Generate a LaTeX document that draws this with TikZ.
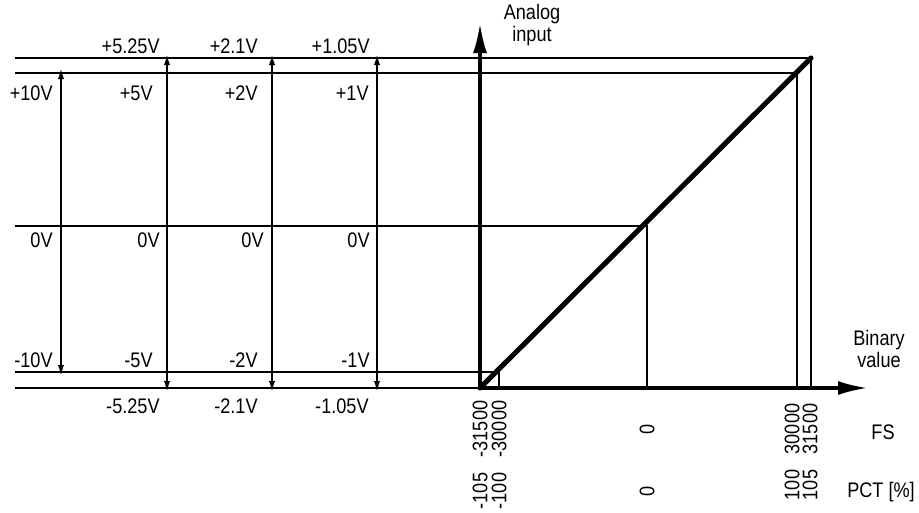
\documentclass[tikz,border=0pt]{standalone}
\usepackage{fontspec}
\setmainfont{Liberation Sans}[FakeStretch=0.86]
\usetikzlibrary{arrows.meta}

\begin{document}
\begin{tikzpicture}[x=0.02cm, y=-0.02cm,
  every node/.style={font=\fontsize{12}{13}\selectfont, inner sep=0pt},
  thinline/.style={black, line width=0.7pt},
  volt/.style={black, line width=1.4pt, {Latex[length=0.26cm, width=0.12cm]}-{Latex[length=0.26cm, width=0.12cm]}},
  axis/.style={black, line width=1.9pt, -{Latex[length=0.6cm, width=0.28cm]}}]
  \useasboundingbox (0,0) rectangle (919,512);

  % Coordinates (pixel grid)
  \coordinate (O) at (480,388);
  \coordinate (Ytip) at (480,23);
  \coordinate (Xtip) at (868,388);
  \coordinate (L1) at (15,58);  \coordinate (R1) at (811,58);
  \coordinate (L2) at (15,73);  \coordinate (R2) at (797,73);
  \coordinate (L0) at (15,226); \coordinate (R0) at (647,226);
  \coordinate (L3) at (15,372); \coordinate (R3) at (499,372);
  \coordinate (L4) at (15,388);
  \coordinate (F1) at (811,388);
  \coordinate (F2) at (797,388);
  \coordinate (F0) at (647,388);
  \coordinate (F3) at (499,388);

  % Level lines (thin)
  \draw[thinline] (L1) -- (R1) -- (F1);
  \draw[thinline] (L2) -- (R2) -- (F2);
  \draw[thinline] (L0) -- (R0) -- (F0);
  \draw[thinline] (L3) -- (R3) -- (F3);
  \draw[thinline] (L4) -- (O);

  % Voltage ranges
  \draw[volt] (61,66) -- (61,378);
  \foreach \x in {167,272,377}
    \draw[volt] (\x,52) -- (\x,394);

  % Axes
  \draw[axis] (O) -- (Ytip);
  \draw[axis] (O) -- (Xtip);

  % Characteristic
  \draw[black, line width=2.9pt, line cap=round] (O) -- (R1);

  % Voltage labels
  \foreach \x/\t in {160/+5.25V, 258/+2.1V, 370/+1.05V}
    \node[anchor=east] at (\x,46) {\t};
  \foreach \x/\t in {53/+10V, 153/+5V, 258/+2V, 369/+1V}
    \node[anchor=east] at (\x,93) {\t};
  \foreach \x in {53,160,264,370}
    \node[anchor=east] at (\x,240) {0V};
  \foreach \x/\t in {53/-10V, 153/-5V, 258/-2V, 370/-1V}
    \node[anchor=east] at (\x,360) {\t};
  \foreach \x/\t in {160/-5.25V, 258/-2.1V, 369/-1.05V}
    \node[anchor=east] at (\x,406) {\t};

  % Axis titles
  \node[align=center] at (532,25) {Analog\\input};
  \node[align=center] at (879,349) {Binary\\value};

  % Scale values
  \foreach \x/\t in {480/-31500, 499/-30000, 647/0, 792/30000, 810/31500}
    \node[rotate=90] at (\x,429) {\t};
  \foreach \x/\t in {480/-105, 499/-100, 647/0}
    \node[rotate=90] at (\x,491) {\t};
  \foreach \x/\t in {792/100, 810/105}
    \node[rotate=90] at (\x,485) {\t};
  \node at (883,432) {FS};
  \node at (881,492) {PCT [\%]};
\end{tikzpicture}
\end{document}
